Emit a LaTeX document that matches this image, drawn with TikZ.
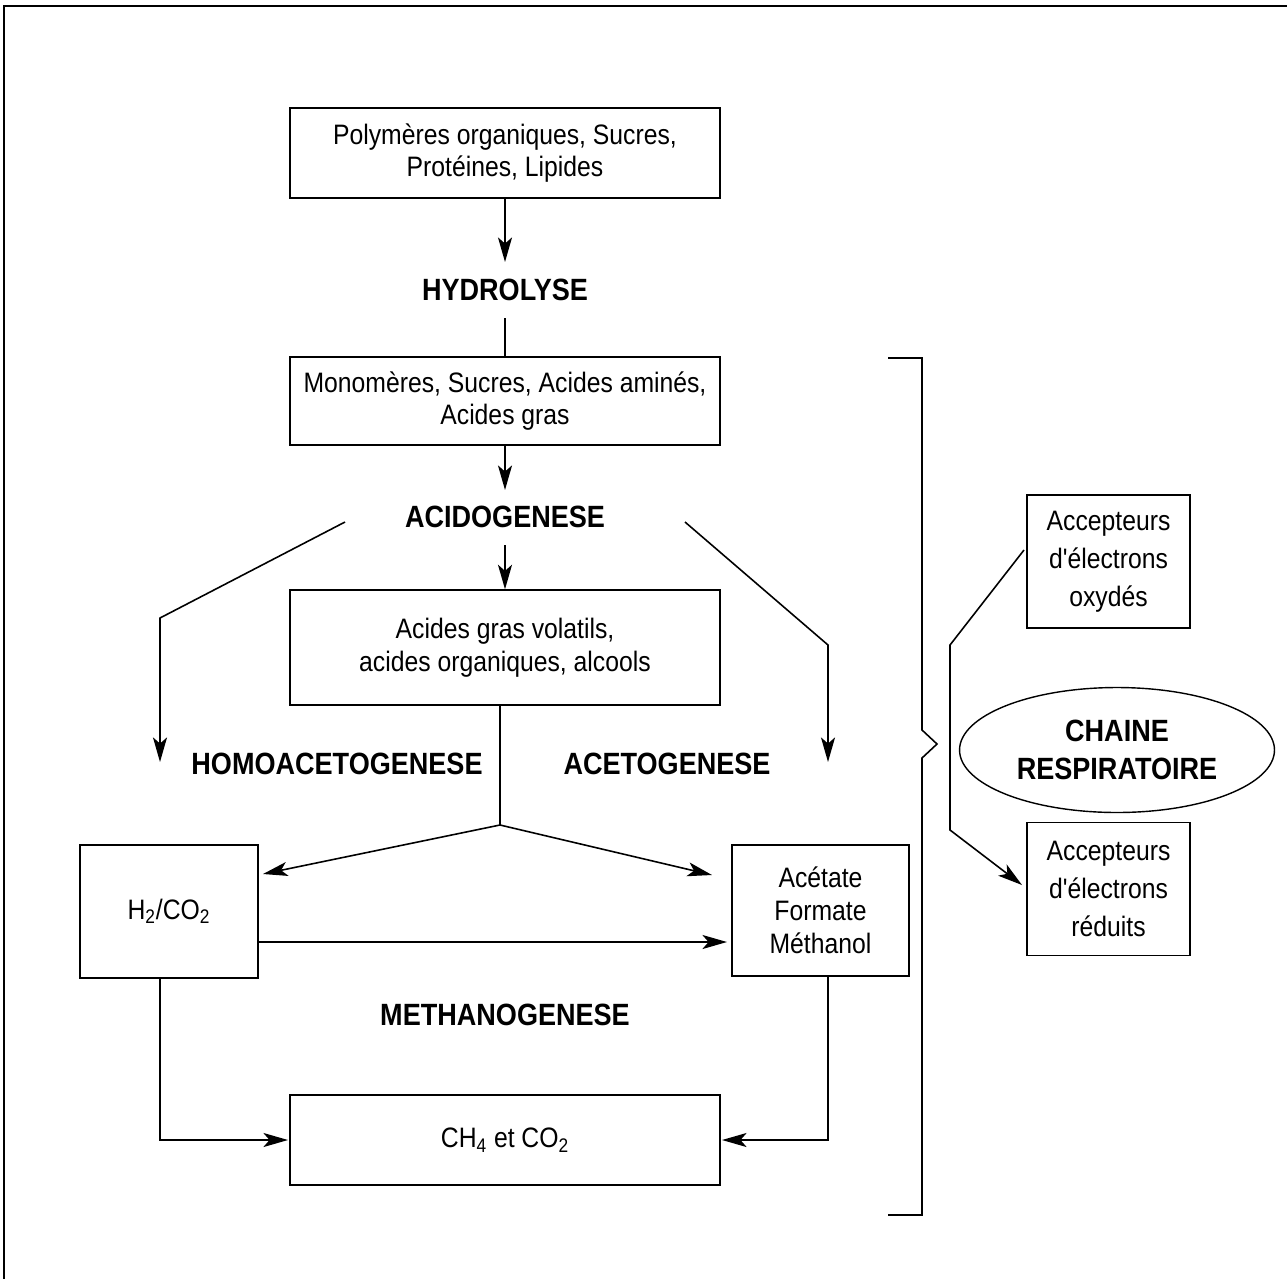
\documentclass[tikz,border=0pt]{standalone}
\usepackage{fontspec}
\setmainfont{Liberation Sans}
\newfontfamily\cond[FakeStretch=0.88]{Liberation Sans}
\usetikzlibrary{arrows.meta,shapes.geometric}
\begin{document}
\begin{tikzpicture}[x=0.02cm,y=-0.02cm,
  box/.style={draw,line width=0.8pt,inner sep=0pt,align=center,font=\cond\fontsize{16}{18.7}\selectfont},
  accbox/.style={box,font=\cond\fontsize{16}{21.5}\selectfont},
  lbl/.style={inner sep=0pt,font=\cond\bfseries\fontsize{17.5}{21.5}\selectfont,align=center},
  ln/.style={line width=0.9pt},
  arr/.style={line width=0.9pt,-{Stealth[length=14pt,width=8pt,inset=3.5pt]}}]
\useasboundingbox (0,0) rectangle (1287,1278);
% frame
\draw[line width=1.2pt] (4,1290) -- (4,6) -- (1295,6);
% boxes
\node[box,minimum width=8.6cm,minimum height=1.8cm] (b1) at (505,153) {Polymères organiques, Sucres,\\Protéines, Lipides};
\node[box,minimum width=8.6cm,minimum height=1.76cm] (b2) at (505,401) {Monomères, Sucres, Acides aminés,\\Acides gras};
\node[box,minimum width=8.6cm,minimum height=2.3cm] (b3) at (505,647.5) {Acides gras volatils,\\acides organiques, alcools};
\node[box,minimum width=3.56cm,minimum height=2.66cm] (h2) at (169,911.5) {H\textsubscript{2}/CO\textsubscript{2}};
\node[box,minimum width=3.54cm,minimum height=2.62cm] (ac) at (820.5,910.5) {Acétate\\Formate\\Méthanol};
\node[box,minimum width=8.6cm,minimum height=1.8cm] (ch4) at (505,1140) {CH\textsubscript{4} et CO\textsubscript{2}};
\node[accbox,minimum width=3.26cm,minimum height=2.66cm] (ox) at (1108.5,561.5) {Accepteurs\\d'électrons\\oxydés};
\node[accbox,minimum width=3.26cm,minimum height=2.66cm] (red) at (1108.5,889) {Accepteurs\\d'électrons\\réduits};
\node[draw,line width=0.8pt,ellipse,minimum width=6.3cm,minimum height=2.5cm,inner sep=0pt,
  font=\cond\bfseries\fontsize{17.5}{21.5}\selectfont,align=center] (ch) at (1117,750) {CHAINE\\RESPIRATOIRE};
% labels
\node[lbl] (hyd) at (505,290) {HYDROLYSE};
\node[lbl] (acido) at (505,517) {ACIDOGENESE};
\node[lbl] (homo) at (337,764) {HOMOACETOGENESE};
\node[lbl] (aceto) at (667,764) {ACETOGENESE};
\node[lbl] (meth) at (505,1015) {METHANOGENESE};
% coordinates
\coordinate (hydT) at (505,262);
\coordinate (hydB) at (505,318);
\coordinate (acT) at (505,490);
\coordinate (acB) at (505,545);
\coordinate (J) at (500,825);
\coordinate (Lst) at (345,522);
\coordinate (Lbend) at (160,618);
\coordinate (Lend) at (160,762);
\coordinate (Rst) at (685,522);
\coordinate (Rbend) at (828,645);
\coordinate (Rend) at (828,762);
\coordinate (Jl) at (263,874);
\coordinate (Jr) at (712,875);
\coordinate (Hs) at (258,942);
\coordinate (He) at (727,942);
\coordinate (Lb) at (160,1140);
\coordinate (Rb) at (828,1140);
\coordinate (Ls) at (160,978);
\coordinate (Rs) at (828,976);
\coordinate (Le) at (288,1140);
\coordinate (Re) at (722,1140);
\coordinate (Os) at (1024,550);
\coordinate (O1) at (950,645);
\coordinate (O2) at (950,830);
\coordinate (Oe) at (1022,885);
% connectors
\draw[arr] (b1.south) -- (hydT);
\draw[ln] (hydB) -- (b2.north);
\draw[arr] (b2.south) -- (acT);
\draw[arr] (acB) -- (b3.north);
\draw[arr] (Lst) -- (Lbend) -- (Lend);
\draw[arr] (Rst) -- (Rbend) -- (Rend);
\draw[ln] (b3.south -| J) -- (J);
\draw[arr] (J) -- (Jl);
\draw[arr] (J) -- (Jr);
\draw[arr] (Hs) -- (He);
\draw[arr] (Ls) -- (Lb) -- (Le);
\draw[arr] (Rs) -- (Rb) -- (Re);
\draw[arr] (Os) -- (O1) -- (O2) -- (Oe);
% bracket
\draw[ln] (888,358) -- (922,358) -- (922,730) -- (937,744) -- (922,758) -- (922,1215) -- (888,1215);
\end{tikzpicture}
\end{document}
